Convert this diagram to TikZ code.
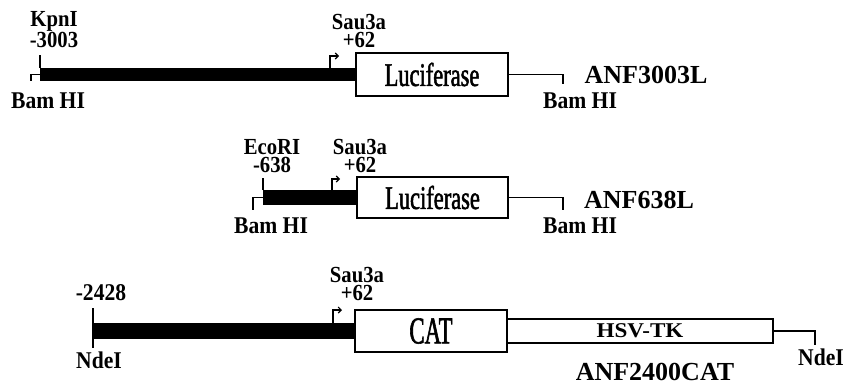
\documentclass[tikz,border=0pt]{standalone}
\usepackage{fontspec}
\setmainfont{Liberation Serif}
\newfontfamily\sitefont[FakeStretch=0.9]{Liberation Serif}
\newfontfamily\lucfont[FakeStretch=0.68,FakeBold=1.5]{Liberation Serif}
\newfontfamily\catfont[FakeStretch=0.6,FakeBold=1.5]{Liberation Serif}
\newfontfamily\hsvfont[FakeStretch=1.1]{Liberation Serif}
\usetikzlibrary{arrows.meta,positioning,calc}
\tikzset{
  pbar/.style ={rectangle, fill=black, inner sep=0pt, outer sep=0pt},
  pbox/.style ={rectangle, draw=black, fill=white, line width=1.5pt,
                inner sep=0pt, outer sep=0pt},
  pline/.style={line width=1.3pt},
  ptss/.style ={line width=1.1pt, -{Straight Barb[length=3pt,width=6pt]}},
  psite/.style={inner sep=0pt, anchor=base, font=\fontsize{24}{26}\sitefont\bfseries},
  pstack/.style={inner sep=0pt, anchor=south, align=center,
                 font=\fontsize{23}{18.5}\sitefont\bfseries},
  pname/.style={inner sep=0pt, anchor=base, font=\fontsize{26}{28}\selectfont\bfseries},
  pgene/.style={font=\fontsize{33}{35}\lucfont},
}

\begin{document}
\begin{tikzpicture}[x=1pt, y=-1pt]
  \useasboundingbox (0,0) rectangle (846,391);

  % ---- ANF3003L ------------------------------------------------------------
  \node[pbox, pgene, minimum width=152pt, minimum height=43pt] (luc1) at (432,74.5) {Luciferase};
  \node[pbar, minimum width=316pt, minimum height=13pt, anchor=east] (bar1) at (luc1.west) {};
  \coordinate (kpn) at (40,55);
  \coordinate (cutL1) at (31,81);
  \coordinate (cutR1) at (563,84);
  \coordinate (tss1) at ($(bar1.north east)+(-26,0)$);
  \draw[pline] (bar1.north west) -- (bar1.north west |- kpn);
  \draw[pline] (bar1.west) -| (cutL1);
  \draw[pline] (luc1.east) -| (cutR1);
  \draw[ptss] (tss1) -- ++(0,-12) -- ++(9,0);
  \node[pstack] (kpnI) at (54,48) {KpnI\\-3003};
  \node[pstack] (sau1) at (359,48) {Sau3a\\+62};
  \node[psite] (bamL1) at (48,108) {Bam HI};
  \node[psite] (bamR1) at (580,108) {Bam HI};
  \node[pname] (anf1) at (646,83) {ANF3003L};

  % ---- ANF638L -------------------------------------------------------------
  \node[pbox, pgene, minimum width=151pt, minimum height=41pt] (luc2) at (432.5,197.5) {Luciferase};
  \node[pbar, minimum width=94pt, minimum height=15pt, anchor=east] (bar2) at (luc2.west) {};
  \coordinate (eco) at (263,178);
  \coordinate (cutL2) at (253,210);
  \coordinate (cutR2) at (563,210);
  \coordinate (tss2) at ($(bar2.north east)+(-25,0)$);
  \draw[pline] (bar2.north west) -- (bar2.north west |- eco);
  \draw[pline] (bar2.west) -| (cutL2);
  \draw[pline] (luc2.east) -| (cutR2);
  \draw[ptss] (tss2) -- ++(0,-11) -- ++(8,0);
  \node[pstack] (ecoRI) at (272,173) {EcoRI\\-638};
  \node[pstack] (sau2) at (360,173) {Sau3a\\+62};
  \node[psite] (bamL2) at (271,233) {Bam HI};
  \node[psite] (bamR2) at (580,233) {Bam HI};
  \node[pname] (anf2) at (639,208) {ANF638L};

  % ---- ANF2400CAT ----------------------------------------------------------
  \node[pbox, font=\fontsize{38}{40}\catfont, minimum width=152pt,
        minimum height=42pt] (cat) at (431,331) {CAT};
  \node[pbox, font=\fontsize{21}{23}\hsvfont\bfseries, minimum width=266pt, minimum height=24pt,
        anchor=west] (hsv) at (cat.east) {HSV-TK};
  \node[pbar, minimum width=262pt, minimum height=16pt, anchor=east] (bar3) at (cat.west) {};
  \coordinate (ndeTop) at (93,308);
  \coordinate (ndeBot) at (93,348);
  \coordinate (cutR3) at (815,345);
  \coordinate (tss3) at ($(bar3.north east)+(-22,0)$);
  \draw[pline] (ndeTop) -- (ndeBot);
  \draw[pline] (hsv.east) -| (cutR3);
  \draw[ptss] (tss3) -- ++(0,-13) -- ++(9,0);
  \node[psite] (p2428) at (101,300) {-2428};
  \node[pstack] (sau3) at (357,301) {Sau3a\\+62};
  \node[psite] (ndeL) at (99,368) {NdeI};
  \node[psite] (ndeR) at (821,365) {NdeI};
  \node[pname] (anf3) at (655,380) {ANF2400CAT};
\end{tikzpicture}
\end{document}
